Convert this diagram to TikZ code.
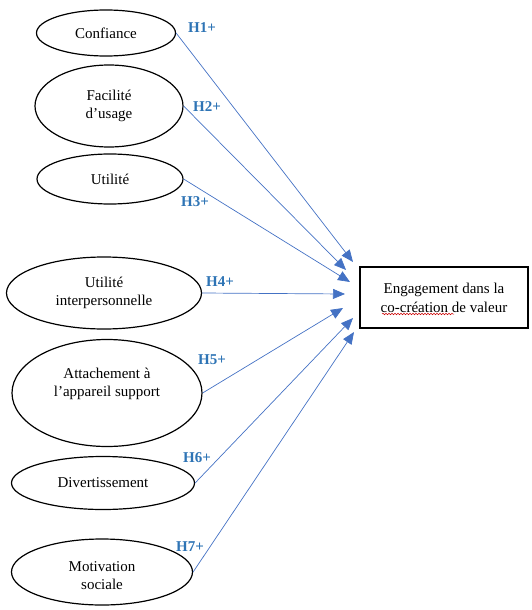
\documentclass[tikz,border=0pt]{standalone}
\usepackage{fontspec}
\setmainfont{Liberation Serif}
\usetikzlibrary{shapes.geometric,arrows.meta,decorations.pathmorphing}
\definecolor{linkblue}{HTML}{4472C4}
\definecolor{labblue}{HTML}{2E74B5}
\begin{document}
\begin{tikzpicture}[x=1pt,y=-1pt,
  construct/.style={ellipse,draw=black,line width=1.2pt,inner sep=0pt,align=center,
    font=\fontsize{15}{18}\selectfont},
  inlabel/.style={align=center,inner sep=0pt,font=\fontsize{15}{18}\selectfont},
  target/.style={rectangle,draw=black,line width=1.5pt,inner sep=0pt,align=center,
    minimum width=168pt,minimum height=61pt,font=\fontsize{15}{19}\selectfont},
  hyp/.style={text=labblue,font=\fontsize{15}{18}\selectfont\bfseries,inner sep=0pt},
  link/.style={draw=linkblue,line width=0.7pt,
    -{Triangle[length=12pt,width=10pt,fill=linkblue]}}
]
\useasboundingbox (0,0) rectangle (531,610);

\node[construct,minimum width=139pt,minimum height=46pt] (conf) at (106,33) {Confiance};
\node[construct,minimum width=148pt,minimum height=82pt] (fac) at (109,106) {Facilité\\d’usage};
\node[construct,minimum width=146pt,minimum height=50pt] (ut) at (110,179) {Utilité};
\node[construct,minimum width=195pt,minimum height=72pt] (uti) at (104,293) {Utilité\\interpersonnelle};
\node[construct,minimum width=190pt,minimum height=107pt,
  label={[inlabel,yshift=9pt]center:Attachement à\\l’appareil support}] (att) at (107,393) {};
\node[construct,minimum width=183pt,minimum height=53pt] (div) at (103,483) {Divertissement};
\node[construct,minimum width=181pt,minimum height=66pt,
  label={[inlabel,yshift=-4pt]center:Motivation\\sociale}] (mot) at (102,572) {};

\node[target] (eng) at (444,297.5) {Engagement dans la\\co-création de valeur};

\coordinate (t1) at (353,262);
\coordinate (t2) at (346,270);
\coordinate (t3) at (350,282);
\coordinate (t4) at (345,294);
\coordinate (t5) at (343,308);
\coordinate (t6) at (353,318);
\coordinate (t7) at (354,332);

\draw[link] (conf.east) -- (t1);
\draw[link] (fac.east) -- (t2);
\draw[link] (ut.east) -- (t3);
\draw[link] (uti.east) -- (t4);
\draw[link] (att.east) -- (t5);
\draw[link] (div.east) -- (t6);
\draw[link] (mot.east) -- (t7);

\node[hyp] (h1) at (202,28) {H1+};
\node[hyp] (h2) at (207,107) {H2+};
\node[hyp] (h3) at (195,202) {H3+};
\node[hyp] (h4) at (220,282) {H4+};
\node[hyp] (h5) at (212,360) {H5+};
\node[hyp] (h6) at (197,458) {H6+};
\node[hyp] (h7) at (190,547) {H7+};

\draw[red!80!black,line width=0.5pt,decorate,
  decoration={snake,amplitude=0.8pt,segment length=3pt}] (382,314) -- (454,314);
\end{tikzpicture}
\end{document}
